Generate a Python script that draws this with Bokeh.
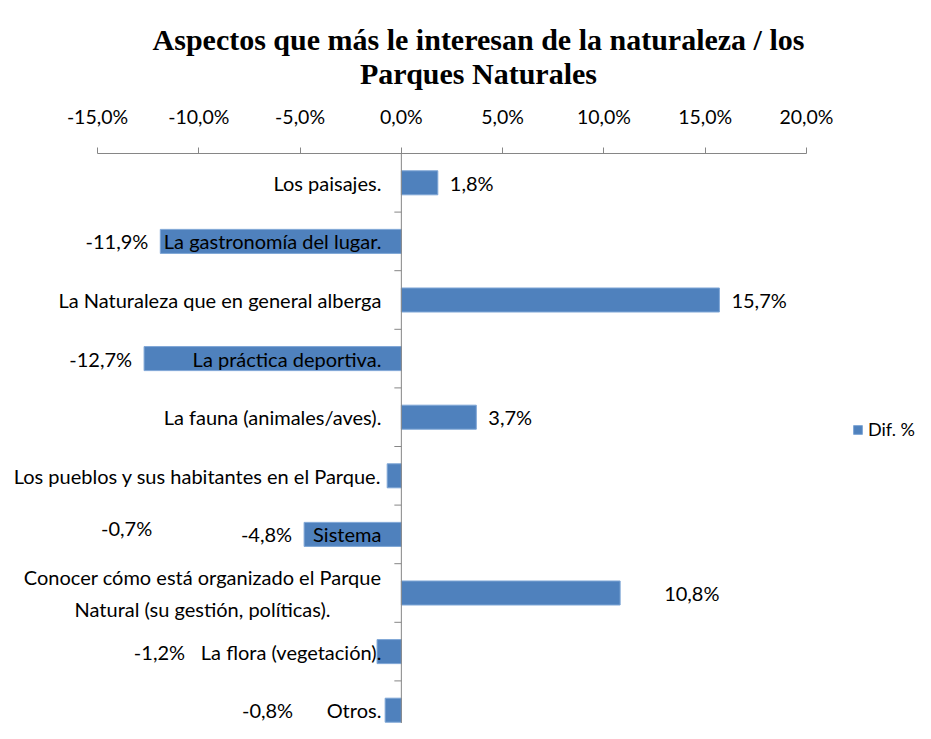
from bokeh.plotting import figure
from bokeh.layouts import column
from bokeh.models import (Range1d, FixedTicker, Span, Legend, LegendItem,
                          ColumnDataSource)
from bokeh.core.properties import value
from bokeh.embed import file_html
from bokeh.resources import INLINE

# ---------------- data ----------------
title_lines = ["Aspectos que más le interesan de la naturaleza / los",
               "Parques Naturales"]
categories = [
    "Los paisajes.",
    "La gastronomía del lugar.",
    "La Naturaleza que en general alberga",
    "La práctica deportiva.",
    "La fauna (animales/aves).",
    "Los pueblos y sus habitantes en el Parque.",
    "Sistema",
    "Conocer cómo está organizado el Parque\nNatural (su gestión, políticas).",
    "La flora (vegetación).",
    "Otros.",
]
dif_pct = [1.8, -11.9, 15.7, -12.7, 3.7, -0.7, -4.8, 10.8, -1.2, -0.8]
series_name = "Dif. %"
x_ticks = [-15, -10, -5, 0, 5, 10, 15, 20]
x_tick_labels = ["-15,0%", "-10,0%", "-5,0%", "0,0%", "5,0%", "10,0%", "15,0%", "20,0%"]

# hand-placed data-label nudges in the original (pixels)
label_nudge_x = [0, 0, 0, 0, 0, -223, 0, 32, -180, -80]
label_nudge_y = [0, 0, 0, 0, 0, 52, 0, 0, 0, 0]

# ---------------- layout ----------------
FONT = "Lato"
FS = "20px"
BAR = "#4F81BD"
GRAY = "#868686"

W, H = 915, 723
HEAD = 100                    # height of the title strip
TOP = 153                     # y of the value axis (page pixels)

# --- title strip (a plain frame in pixel units) ---
t = figure(width=W, height=HEAD, output_backend="svg", toolbar_location=None,
           x_range=Range1d(0, W), y_range=Range1d(HEAD, 0),
           x_axis_location=None, y_axis_location=None,
           min_border=0)
t.outline_line_color = None
t.grid.visible = False
t.text(x=[478, 478], y=[38.5, 73], text=title_lines,
       text_align="center", text_baseline="alphabetic",
       text_font=value("Liberation Serif"), text_font_style="bold",
       text_font_size="30px", text_color="black")

# --- chart ---
px_per = 709 / 35.0           # pixels per percent point
x_start = -15 - 97 / px_per
x_end = x_start + W / px_per
n = len(categories)
band_px = 58.6
y_end = -0.5
y_start = -0.5 + (H - TOP) / band_px

p = figure(width=W, height=H - HEAD, output_backend="svg", toolbar_location=None,
           x_range=Range1d(x_start, x_end), y_range=Range1d(y_start, y_end),
           x_axis_location="above", y_axis_location=None,
           min_border_left=0, min_border_right=0, min_border_bottom=0,
           min_border_top=TOP - HEAD)
p.outline_line_color = None
p.grid.visible = False
p.background_fill_color = "white"
p.border_fill_color = "white"

ax = p.xaxis[0]
ax.ticker = FixedTicker(ticks=x_ticks)
ax.major_label_overrides = {tk: s for tk, s in zip(x_ticks, x_tick_labels)}
ax.bounds = (x_ticks[0], x_ticks[-1])
ax.axis_line_color = GRAY
ax.major_tick_line_color = GRAY
ax.major_tick_out = 6
ax.major_tick_in = 0
ax.minor_tick_line_color = None
ax.major_label_text_font = FONT
ax.major_label_text_font_size = "19.5px"
ax.major_label_text_color = "black"
ax.major_label_standoff = 20

idx = list(range(n))
src = ColumnDataSource(dict(y=idx, v=dif_pct, cat=categories))
bars = p.hbar(y="y", left=0, right="v", height=0.41, source=src,
              fill_color=BAR, line_color="#7FA6D6", line_width=1)

# vertical (category) axis line at zero
p.add_layout(Span(location=0, dimension="height", line_color=GRAY, line_width=1))
tick_len = 7 / px_per
p.segment(x0=[0] * (n - 1), x1=[-tick_len] * (n - 1),
          y0=[k + 0.5 for k in range(n - 1)], y1=[k + 0.5 for k in range(n - 1)],
          line_color=GRAY, line_width=1)

# category labels next to the zero axis
p.text(x=[0] * n, y=idx, text=categories, x_offset=-20,
       anchor=value("center_right"), text_align="center", text_baseline="middle",
       text_font=value(FONT), text_font_size=FS, text_color="black",
       text_line_height=1.3)

# data labels
def fmt(v):
    return ("%.1f%%" % v).replace(".", ",")

pos = [i for i in idx if dif_pct[i] >= 0]
neg = [i for i in idx if dif_pct[i] < 0]
p.text(x=[dif_pct[i] for i in pos], y=pos, text=[fmt(dif_pct[i]) for i in pos],
       x_offset=[12 + label_nudge_x[i] for i in pos],
       y_offset=[label_nudge_y[i] for i in pos],
       text_align="left", text_baseline="middle",
       text_font=value(FONT), text_font_size=FS, text_color="black")
p.text(x=[dif_pct[i] for i in neg], y=neg, text=[fmt(dif_pct[i]) for i in neg],
       x_offset=[-12 + label_nudge_x[i] for i in neg],
       y_offset=[label_nudge_y[i] for i in neg],
       text_align="right", text_baseline="middle",
       text_font=value(FONT), text_font_size=FS, text_color="black")

# legend
legend = Legend(items=[LegendItem(label=series_name, renderers=[bars])],
                location=(852, 283), glyph_width=11, glyph_height=11,
                label_standoff=5, padding=0, margin=0, spacing=0,
                border_line_color=None, background_fill_alpha=0,
                label_text_font=FONT, label_text_font_size="18px",
                label_text_color="black")
p.add_layout(legend)

layout = column(t, p, spacing=0)
open("out.html", "w").write(file_html(layout, INLINE))
